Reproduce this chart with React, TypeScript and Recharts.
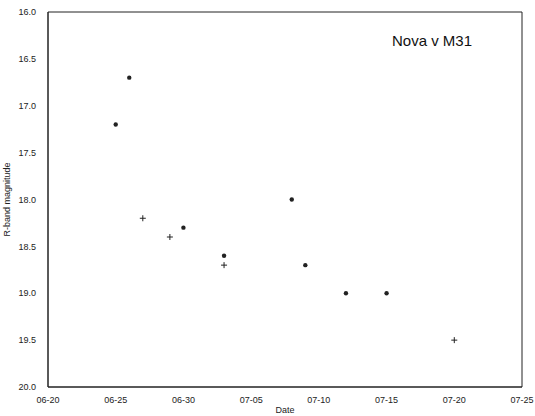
import { ScatterChart, Scatter, XAxis, YAxis, Label } from "recharts";

// observations drawn as filled dots
const dotDates = ["06-25", "06-26", "06-30", "07-03", "07-08", "07-09", "07-12", "07-15"];
const dotMags = [17.2, 16.7, 18.3, 18.6, 18.0, 18.7, 19.0, 19.0];

// observations drawn as plus signs
const plusDates = ["06-27", "06-29", "07-03", "07-20"];
const plusMags = [18.2, 18.4, 18.7, 19.5];

const xTickLabels = ["06-20", "06-25", "06-30", "07-05", "07-10", "07-15", "07-20", "07-25"];
const yTicks = [16.0, 16.5, 17.0, 17.5, 18.0, 18.5, 19.0, 19.5, 20.0];

// days since 06-20 (June has 30 days)
const dayOf = (s: string) => {
  const [m, d] = s.split("-").map(Number);
  return (m === 6 ? d : 30 + d) - 20;
};

const xTicks = xTickLabels.map(dayOf);
const dotData = dotDates.map((d, i) => ({ x: dayOf(d), y: dotMags[i] }));
const plusData = plusDates.map((d, i) => ({ x: dayOf(d), y: plusMags[i] }));

const INK = "#222";
const FONT = "'Liberation Sans', Arial, sans-serif";

const DotShape = (p: any) => <circle cx={p.cx} cy={p.cy} r={2.2} fill={INK} />;
const PlusShape = (p: any) => (
  <g stroke={INK} strokeWidth={1}>
    <line x1={p.cx - 3} x2={p.cx + 3} y1={p.cy} y2={p.cy} />
    <line x1={p.cx} x2={p.cx} y1={p.cy - 3} y2={p.cy + 3} />
  </g>
);

const tickStyle = { fontSize: 9, fill: INK, fontFamily: FONT };
const noLabel = () => <g />;

export default function App() {
  const xCommon = { type: "number" as const, dataKey: "x", domain: [0, 35], ticks: xTicks, stroke: INK };
  const yCommon = { type: "number" as const, dataKey: "y", reversed: true, domain: [16, 20], ticks: yTicks, stroke: INK };
  return (
    <div style={{ position: "absolute", left: 0, top: 0, width: 535, height: 416, background: "#fff" }}>
      <ScatterChart width={535} height={416} margin={{ top: 12, right: 13, left: 8, bottom: 9 }}>
        <XAxis
          xAxisId="bottom"
          {...xCommon}
          tickFormatter={(v: number) => xTickLabels[xTicks.indexOf(v)]}
          tickLine={false}
          tickMargin={4}
          height={20}
          tick={tickStyle}
        >
          <Label value="Date" position="insideBottom" offset={-6} style={{ fontSize: 9, fill: INK, fontFamily: FONT }} />
        </XAxis>
        <XAxis xAxisId="bottomTicks" {...xCommon} orientation="bottom" mirror tickSize={5} tick={noLabel} />
        <XAxis xAxisId="top" {...xCommon} orientation="top" mirror tickSize={5} tick={noLabel} />
        <YAxis
          yAxisId="left"
          {...yCommon}
          tickFormatter={(v: number) => v.toFixed(1)}
          tickLine={false}
          tickMargin={6}
          width={40}
          tick={tickStyle}
        >
          <Label
            value="R-band magnitude"
            angle={-90}
            position="insideLeft"
            offset={-1}
            style={{ fontSize: 9, fill: INK, fontFamily: FONT, textAnchor: "middle" }}
          />
        </YAxis>
        <YAxis yAxisId="leftTicks" {...yCommon} orientation="left" mirror tickSize={5} tick={noLabel} />
        <YAxis yAxisId="right" {...yCommon} orientation="right" mirror tickSize={5} tick={noLabel} />
        <Scatter xAxisId="bottom" yAxisId="left" data={dotData} shape={DotShape} isAnimationActive={false} />
        <Scatter xAxisId="bottom" yAxisId="left" data={plusData} shape={PlusShape} isAnimationActive={false} />
      </ScatterChart>
      <div
        style={{
          position: "absolute",
          left: 392,
          top: 32,
          fontFamily: FONT,
          fontSize: 15,
          color: "#111",
          whiteSpace: "nowrap",
        }}
      >
        Nova v M31
      </div>
    </div>
  );
}
